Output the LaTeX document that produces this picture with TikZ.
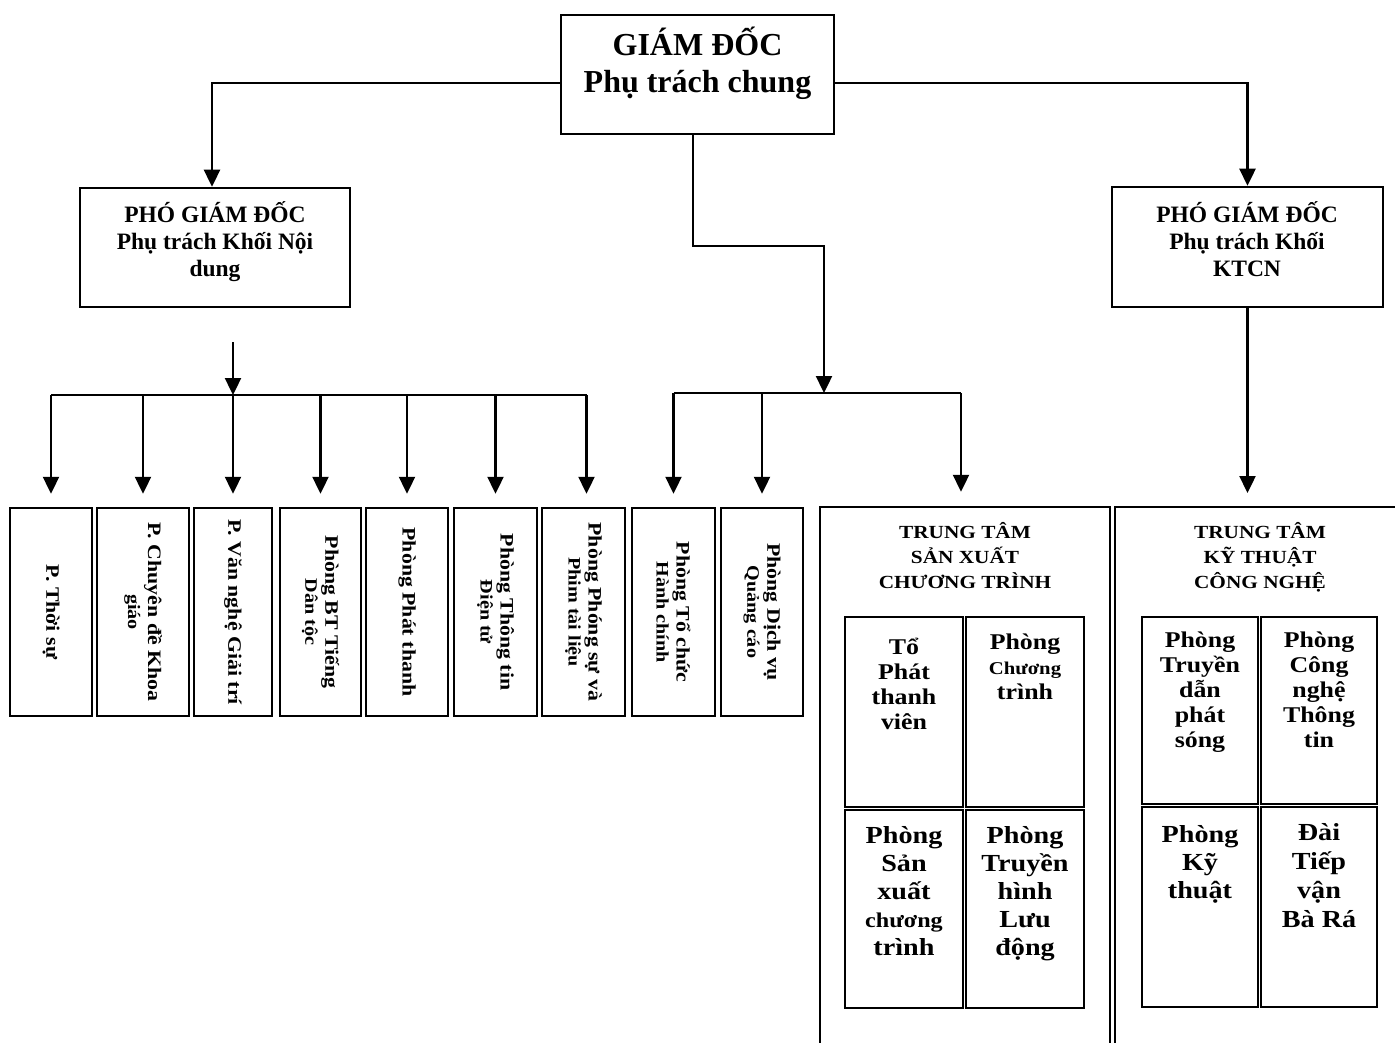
\documentclass[tikz,border=0pt]{standalone}
\usepackage{fontspec}
\usepackage{graphicx}
\setmainfont{Liberation Serif}
\newfontfamily\wide{Liberation Serif}[FakeStretch=1.15]
\usetikzlibrary{arrows.meta}
\AtBeginDocument{\lineskiplimit=-100pt}
\newcommand{\vtone}[1]{\rotatebox{-90}{\parbox{200pt}{\centering\fontsize{19}{21}\selectfont #1}}}
\newcommand{\vttwo}[2]{\rotatebox{-90}{\parbox{200pt}{\centering\fontsize{19}{21}\selectfont #1\\\fontsize{17.5}{20}\selectfont #2}}}
\begin{document}
\begin{tikzpicture}[x=1pt,y=-1pt,
  bx/.style={draw, line width=2.5pt, inner sep=0pt},
  vb/.style={bx, minimum height=208pt, font=\wide\bfseries},
  arr/.style={line width=2.4pt, -{Triangle[width=16pt,length=17pt]}},
  ln/.style={line width=2.4pt},
  ct/.style={anchor=north, align=center, inner sep=0pt, font=\wide\bfseries\fontsize{22.5}{25}\selectfont},
  cb/.style={anchor=north, align=center, inner sep=0pt, font=\wide\bfseries\fontsize{24.5}{28}\selectfont},
  tt/.style={anchor=north, align=center, inner sep=0pt, font=\wide\bfseries\fontsize{18.5}{25}\selectfont},
  pt/.style={anchor=north, align=center, inner sep=0pt, font=\bfseries\fontsize{23.5}{27}\selectfont}]
\clip (0,0) rectangle (1395,1043);
\fill[white] (0,0) rectangle (1395,1043);

% top level
\node[bx, minimum width=273pt, minimum height=119pt] (gd) at (697.5,74.5) {};
\node[anchor=north, align=center, inner sep=0pt, font=\bfseries\fontsize{32}{37}\selectfont] (gdt) at (697.5,25) {\rule{0pt}{30pt}GIÁM ĐỐC\\Phụ trách chung};

\node[bx, minimum width=270pt, minimum height=119pt] (pgd1) at (215,247.5) {};
\node[pt] (pgd1t) at (215,200) {\rule{0pt}{22pt}PHÓ GIÁM ĐỐC\\Phụ trách Khối Nội\\dung};

\node[bx, minimum width=271pt, minimum height=120pt] (pgd2) at (1247.5,247) {};
\node[pt] (pgd2t) at (1247,200) {\rule{0pt}{22pt}PHÓ GIÁM ĐỐC\\Phụ trách Khối\\KTCN};

% vertical boxes
\node[vb, minimum width=82pt] (b1) at (51,612) {\vtone{P. Thời sự}};
\node[vb, minimum width=92pt] (b2) at (143,612) {\vttwo{P. Chuyên đề Khoa}{giáo}};
\node[vb, minimum width=78pt] (b3) at (233,612) {\vtone{P. Văn nghệ Giải trí}};
\node[vb, minimum width=81pt] (b4) at (320.5,612) {\vttwo{Phòng BT Tiếng}{Dân tộc}};
\node[vb, minimum width=82pt] (b5) at (407,612) {\vtone{Phòng Phát thanh}};
\node[vb, minimum width=83pt] (b6) at (495.5,612) {\vttwo{Phòng Thông tin}{Điện tử}};
\node[vb, minimum width=83pt] (b7) at (583.5,612) {\vttwo{Phòng Phóng sự và}{Phim tài liệu}};
\node[vb, minimum width=83pt] (b8) at (673.5,612) {\vttwo{Phòng Tổ chức}{Hành chính}};
\node[vb, minimum width=82pt] (b9) at (762,612) {\vttwo{Phòng Dịch vụ}{Quảng cáo}};

% centres
\node[bx, minimum width=290pt, minimum height=553pt] (ttsx) at (965,783.5) {};
\node[tt] (ttsxt) at (965,518) {\rule{0pt}{20pt}TRUNG TÂM\\SẢN XUẤT\\CHƯƠNG TRÌNH};
\node[bx, minimum width=118pt, minimum height=190pt] (sx1) at (904,712) {};
\node[bx, minimum width=118pt, minimum height=190pt] (sx2) at (1025,712) {};
\node[bx, minimum width=118pt, minimum height=198pt] (sx3) at (904,909) {};
\node[bx, minimum width=118pt, minimum height=198pt] (sx4) at (1025,909) {};
\node[ct] (sx1t) at (904,633) {\rule{0pt}{21pt}Tổ\\Phát\\thanh\\viên};
\node[ct] (sx2t) at (1025,628) {\rule{0pt}{21pt}Phòng\\{\fontsize{18}{25}\selectfont Chương}\\trình};
\node[cb] (sx3t) at (904,820) {\rule{0pt}{23pt}Phòng\\Sản\\xuất\\{\fontsize{21}{28}\selectfont chương}\\trình};
\node[cb] (sx4t) at (1025,820) {\rule{0pt}{23pt}Phòng\\Truyền\\hình\\Lưu\\động};

\node[bx, minimum width=295pt, minimum height=553pt] (ttkt) at (1262.5,783.5) {};
\node[tt] (ttktt) at (1260,518) {\rule{0pt}{20pt}TRUNG TÂM\\KỸ THUẬT\\CÔNG NGHỆ};
\node[bx, minimum width=116pt, minimum height=187pt] (kt1) at (1200,710.5) {};
\node[bx, minimum width=116pt, minimum height=187pt] (kt2) at (1319,710.5) {};
\node[bx, minimum width=116pt, minimum height=200pt] (kt3) at (1200,907) {};
\node[bx, minimum width=116pt, minimum height=200pt] (kt4) at (1319,907) {};
\node[ct] (kt1t) at (1200,626) {\rule{0pt}{21pt}Phòng\\Truyền\\dẫn\\phát\\sóng};
\node[ct] (kt2t) at (1319,626) {\rule{0pt}{21pt}Phòng\\Công\\nghệ\\Thông\\tin};
\node[cb] (kt3t) at (1200,819) {\rule{0pt}{23pt}Phòng\\Kỹ\\thuật};
\node[cb, font=\wide\bfseries\fontsize{24.5}{29}\selectfont] (kt4t) at (1319,817) {\rule{0pt}{23pt}Đài\\Tiếp\\vận\\Bà Rá};

% connectors from the director
\draw[arr] ([yshift=-8.5pt]gd.west) -| ([xshift=-3pt]pgd1.north);
\draw[arr] ([yshift=-8.5pt]gd.east) -| (pgd2.north);
\coordinate (cj) at (824,246);
\coordinate (cbar) at (824,393);
\draw[arr] ([xshift=-4.5pt]gd.south) |- (cj) -- (cbar);

% centre group
\draw[ln] (b8.north |- cbar) -- ([xshift=-4pt]ttsx.north |- cbar);
\draw[arr] (b8.north |- cbar) -- ([yshift=13pt]b8.north);
\draw[arr] (b9.north |- cbar) -- ([yshift=13pt]b9.north);
\draw[arr] ([xshift=-4pt]ttsx.north |- cbar) -- ([xshift=-4pt,yshift=14pt]ttsx.north);

% left group
\coordinate (lstart) at (233,342);
\coordinate (lbar) at (233,395);
\draw[arr] (lstart) -- (lbar);
\draw[ln] (b1.north |- lbar) -- ([xshift=3pt]b7.north |- lbar);
\foreach \b in {b1,b2,b3,b4,b5,b6}{
  \draw[arr] (\b.north |- lbar) -- ([yshift=13pt]\b.north);
}
\draw[arr] ([xshift=3pt]b7.north |- lbar) -- ([xshift=3pt,yshift=13pt]b7.north);

% right group
\draw[arr] (pgd2.south) -- (pgd2.south |- 0,493);
\end{tikzpicture}
\end{document}
